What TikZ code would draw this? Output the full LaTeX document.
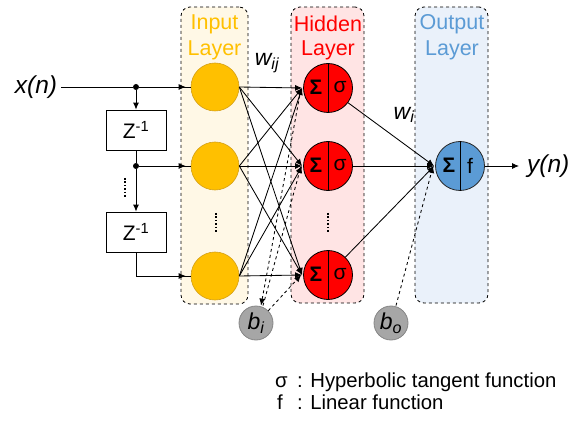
\documentclass[tikz,border=0pt]{standalone}
\usepackage{fontspec}
\setmainfont{Liberation Sans}
\usetikzlibrary{arrows.meta}
\definecolor{ingold}{HTML}{FFC000}
\definecolor{ingoldd}{HTML}{D4A017}
\definecolor{inbox}{HTML}{FFF8E6}
\definecolor{hidred}{HTML}{FF0000}
\definecolor{hidbox}{HTML}{FFE4E4}
\definecolor{outblue}{HTML}{5B9BD5}
\definecolor{outbox}{HTML}{EAF1FA}
\definecolor{biasgray}{HTML}{A6A6A6}
\definecolor{biasgrayd}{HTML}{858585}
\newcommand{\fs}[1]{\fontsize{#1}{#1}\selectfont}
\begin{document}
\begin{tikzpicture}[x=1pt,y=-1pt,
  layerbox/.style={draw=black,dashed,line width=0.8pt,rounded corners=9pt},
  conn/.style={line width=0.85pt,draw=black},
  arr/.style={conn,-{Latex[length=7pt,width=6pt]}},
  dconn/.style={conn,dashed,-{Latex[length=7pt,width=6pt]}},
  innode/.style={circle,minimum size=48pt,inner sep=0pt,fill=ingold,draw=ingoldd,line width=0.6pt},
  hidnode/.style={circle,minimum size=49pt,inner sep=0pt,fill=hidred,draw=black,line width=0.8pt},
  outnode/.style={circle,minimum size=49pt,inner sep=0pt,fill=outblue,draw=black!85,line width=0.8pt},
  biasnode/.style={circle,minimum size=34pt,inner sep=0pt,fill=biasgray,draw=biasgrayd,line width=0.8pt,font=\fs{23}\itshape},
  delay/.style={draw=black,line width=0.8pt,minimum width=60pt,minimum height=40pt,inner sep=0pt,font=\fs{21}},
  junc/.style={circle,fill=black,inner sep=0pt,minimum size=6pt},
  lbl/.style={font=\fs{21.5},inner sep=0pt},
  vdot/.style={line width=2pt,dash pattern=on 1.6pt off 1.8pt},
  legend/.style={font=\fs{20.3},inner sep=0pt,anchor=base west},
]
\useasboundingbox (0,0) rectangle (586,422);
% layer boxes
\node[layerbox,fill=inbox,minimum width=67pt,minimum height=297pt,inner sep=0pt] (inbox) at (214.5,155.5) {};
\node[layerbox,fill=hidbox,minimum width=73pt,minimum height=296pt,inner sep=0pt] (hidbox) at (327.5,155) {};
\node[layerbox,fill=outbox,minimum width=73pt,minimum height=296pt,inner sep=0pt] (outbox) at (451.5,155) {};
% layer titles
\node[lbl,text=ingold] (tin1) at (214.5,24) {Input};
\node[lbl,text=ingold] (tin2) at (214.5,50) {Layer};
\node[lbl,text=hidred] (thid1) at (328,24) {Hidden};
\node[lbl,text=hidred] (thid2) at (328,50) {Layer};
\node[lbl,text=outblue] (tout1) at (452,24) {Output};
\node[lbl,text=outblue] (tout2) at (452,50) {Layer};
% input side
\node[font=\fs{24.5}\itshape,inner sep=0pt] (xn) at (36,87) {x(n)};
\node[junc] (d1) at (136,87) {};
\node[delay] (z1) at (136,130) {Z\textsuperscript{-1}};
\node[junc] (d2) at (136,166) {};
\node[delay] (z2) at (136,232) {Z\textsuperscript{-1}};
\coordinate (c3) at (136,276);
% nodes
\node[innode] (i1) at (215,87) {};
\node[innode] (i2) at (215,166) {};
\node[innode] (i3) at (215,276) {};
\node[hidnode] (h1) at (328,88) {};
\node[hidnode] (h2) at (328,166) {};
\node[hidnode] (h3) at (328,275) {};
\node[outnode] (o) at (460,166) {};
\node[biasnode] (bi) at (256,323) {b\textsubscript{i}};
\node[biasnode] (bo) at (391,323) {b\textsubscript{o}};
% delay line connections
\draw[conn] ([xshift=4pt]xn.east) -- (d1);
\draw[arr] (d1) -- (z1.north);
\draw[conn] (z1.south) -- (d2);
\draw[arr] (d2) -- (z2.north);
\draw[conn] (z2.south) -- (c3);
\draw[conn] (d1) -- (i1.west);
\draw[arr,shorten >=5pt] (d1) -- (i1.west);
\draw[conn] (d2) -- (i2.west);
\draw[arr,shorten >=5pt] (d2) -- (i2.west);
\draw[conn] (c3) -- (i3.west);
\draw[arr,shorten >=5pt] (c3) -- (i3.west);
% input -> hidden
\foreach \a in {i1,i2,i3}{
  \foreach \b in {h1,h2,h3}{
    \draw[arr] (\a.east) -- ([xshift=-1pt]\b.west);
  }
}
% hidden -> output
\foreach \b in {h1,h2,h3}{
  \draw[arr] (\b) -- ([xshift=-1pt]o.west);
}
% bias
\draw[conn,dashed,{Latex[length=7pt,width=6pt]}-] ([xshift=5pt]bi.north) -- ([xshift=-2pt]h1.west);
\draw[dconn] ([xshift=7pt]bi.north) -- ([xshift=-2pt]h2.west);
\draw[dconn] (bi.north east) -- ([xshift=-2pt]h3.west);
\draw[dconn] ([xshift=5pt]bo.north) -- ([xshift=-2pt]o.west);
% split lines
\foreach \n in {h1,h2,h3}{
  \draw[line width=0.8pt] (\n.north) -- (\n.south);
}
\draw[line width=0.8pt] (o.north) -- (o.south);
\foreach \n in {h1,h2,h3}{
  \node[font=\fs{21}\bfseries,inner sep=0pt] (\n s) at ([xshift=-12pt,yshift=1pt]\n.center) {Σ};
  \node[font=\fs{21},inner sep=0pt] (\n g) at ([xshift=12pt,yshift=1pt]\n.center) {σ};
}
\node[font=\fs{21}\bfseries,inner sep=0pt] (os) at ([xshift=-11pt,yshift=1pt]o.center) {Σ};
\node[font=\fs{21},inner sep=0pt] (of) at ([xshift=10pt,yshift=0pt]o.center) {f};
% output
\node[font=\fs{24.5}\itshape,inner sep=0pt,anchor=west] (yn) at (527,166) {y(n)};
\draw[arr] (o.east) -- ([xshift=-8pt]yn.west);
% weight labels
\node[font=\fs{23}\itshape,inner sep=0pt] (wij) at (267,63) {w\textsubscript{ij}};
\node[font=\fs{23}\itshape,inner sep=0pt] (wi) at (404,115) {w\textsubscript{i}};
% vertical ellipses
\draw[vdot] (125,178) -- (125,197);
\draw[vdot] (216,213) -- (216,232);
\draw[vdot] (328,213) -- (328,232);
% legend
\node[legend] (l1a) at (275,387) {σ};
\node[legend] (l1b) at (297,387) {: Hyperbolic tangent function};
\node[legend] (l2a) at (277,409) {f};
\node[legend] (l2b) at (297,409) {: Linear function};
\end{tikzpicture}
\end{document}
